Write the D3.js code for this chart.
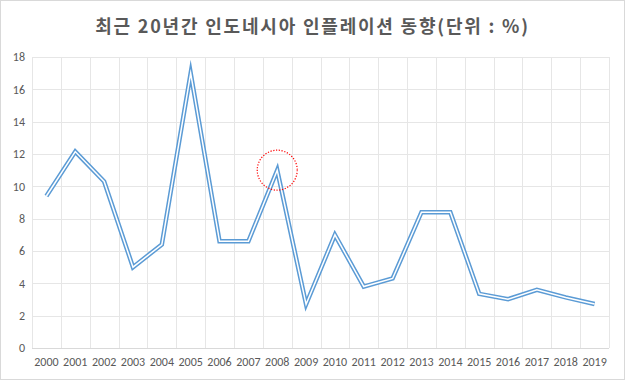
<!DOCTYPE html>
<html><head><meta charset="utf-8">
<script src="https://cdn.jsdelivr.net/npm/d3@7"></script>
<style>
html,body{margin:0;padding:0;background:#fff;}
svg{display:block;}
</style></head>
<body>
<svg id="chart" width="625" height="380"></svg>
<script>
const title = "최근 20년간 인도네시아 인플레이션 동향(단위 : %)";
const years = ["2000","2001","2002","2003","2004","2005","2006","2007","2008","2009","2010","2011","2012","2013","2014","2015","2016","2017","2018","2019"];
const inflation = [9.4, 12.15, 10.3, 5.0, 6.4, 17.0, 6.6, 6.6, 11.0, 2.7, 7.0, 3.8, 4.3, 8.4, 8.4, 3.35, 3.02, 3.6, 3.13, 2.72];
const yTicks = [0, 2, 4, 6, 8, 10, 12, 14, 16, 18];
const highlightYear = "2008";

const svg = d3.select("#chart");
const W = 625, H = 380;
const m = {left: 32, right: 16, top: 57, bottom: 32};

svg.append("rect").attr("x", 0.5).attr("y", 0.5).attr("width", W - 1).attr("height", H - 1)
  .attr("fill", "#fff").attr("stroke", "#d9d9d9");

const x = d3.scaleBand().domain(years).range([m.left, W - m.right]).padding(0);
const y = d3.scaleLinear().domain([0, 18]).range([H - m.bottom, m.top]);

// horizontal gridlines
svg.append("g").selectAll("line").data(yTicks).join("line")
  .attr("x1", m.left).attr("x2", W - m.right)
  .attr("y1", d => Math.round(y(d)) + 0.5).attr("y2", d => Math.round(y(d)) + 0.5)
  .attr("stroke", "#e6e6e6").attr("stroke-width", 1);

// vertical gridlines at category boundaries
const bounds = years.map(d => x(d)).concat([x(years[years.length - 1]) + x.bandwidth()]);
svg.append("g").selectAll("line").data(bounds).join("line")
  .attr("x1", d => Math.round(d) + 0.5).attr("x2", d => Math.round(d) + 0.5)
  .attr("y1", m.top).attr("y2", H - m.bottom)
  .attr("stroke", "#e6e6e6").attr("stroke-width", 1);

// bottom axis line
svg.append("line").attr("x1", m.left).attr("x2", W - m.right)
  .attr("y1", Math.round(y(0)) + 0.5).attr("y2", Math.round(y(0)) + 0.5)
  .attr("stroke", "#d9d9d9");

// y axis labels
const yAxis = d3.axisLeft(y).tickValues(yTicks).tickSize(0).tickPadding(7);
const gy = svg.append("g").attr("transform", `translate(${m.left},0)`).call(yAxis);
gy.select(".domain").remove();
gy.selectAll("text").attr("fill", "#595959").style("font-family", "Calibri, 'Liberation Sans', Arial, sans-serif").style("font-size", "12px");

// x axis labels
const xAxis = d3.axisBottom(x).tickSize(0).tickPadding(9);
const gx = svg.append("g").attr("transform", `translate(0,${y(0)})`).call(xAxis);
gx.select(".domain").remove();
gx.selectAll("text").attr("fill", "#595959").style("font-family", "Calibri, 'Liberation Sans', Arial, sans-serif").style("font-size", "12px");

// double line
const line = d3.line().x((d, i) => x(years[i]) + x.bandwidth() / 2).y(d => y(d));
svg.append("path").datum(inflation).attr("d", line).attr("fill", "none")
  .attr("stroke", "#5B9BD5").attr("stroke-width", 4.5).attr("stroke-linejoin", "miter").attr("stroke-miterlimit", 20);
svg.append("path").datum(inflation).attr("d", line).attr("fill", "none")
  .attr("stroke", "#ffffff").attr("stroke-width", 1.5).attr("stroke-linejoin", "miter").attr("stroke-miterlimit", 20);

// highlight circle
const hi = years.indexOf(highlightYear);
svg.append("circle")
  .attr("cx", x(highlightYear) + x.bandwidth() / 2)
  .attr("cy", y(inflation[hi]))
  .attr("r", 20).attr("fill", "none")
  .attr("stroke", "#ff0000").attr("stroke-width", 1.2).attr("stroke-dasharray", "1.2,1.6");

// title
svg.append("text").attr("x", W / 2).attr("y", 33).attr("text-anchor", "middle")
  .attr("fill", "#595959")
  .style("font-family", "'Noto Sans CJK KR', 'Noto Sans', sans-serif")
  .style("font-size", "18px").style("font-weight", "bold").style("letter-spacing", "1.8px")
  .text(title);
</script>
</body></html>
